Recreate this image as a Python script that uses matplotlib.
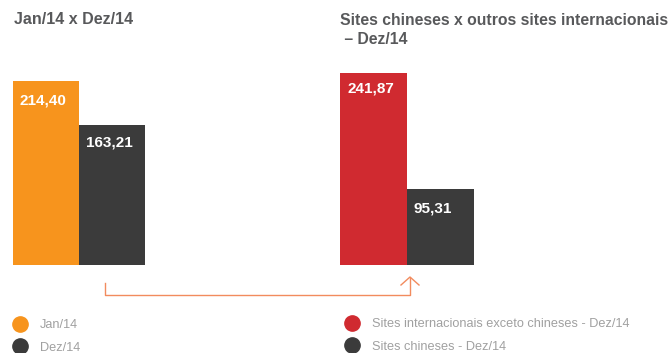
import matplotlib
matplotlib.use("Agg")
import matplotlib.pyplot as plt
from matplotlib.lines import Line2D

plt.rcParams['font.family'] = ['Liberation Sans', 'DejaVu Sans']

# valores (R$) por período / grupo de sites
left_labels = ['Jan/14', 'Dez/14']
left_values = [214.40, 163.21]
right_labels = ['Sites internacionais exceto chineses - Dez/14', 'Sites chineses - Dez/14']
right_values = [241.87, 95.31]

left_colors = ['#F7941D', '#3B3B3B']
right_colors = ['#D02A30', '#3B3B3B']

W, H = 672, 353
fig = plt.figure(figsize=(W / 100, H / 100), dpi=100)


def px(x, y):
    # pixel (from top-left) -> figure fraction
    return x / W, 1 - y / H


def panel(left, width, ymax, values, colors, label_off):
    bx, by = px(left, 265)
    ax = fig.add_axes([bx, by, width / W, 200 / H])
    bars = ax.bar(range(len(values)), values, width=1.0, color=colors)
    ax.set_xlim(-0.5, len(values) - 0.5)
    ax.set_ylim(0, ymax)
    ax.axis('off')
    for b, v, off in zip(bars, values, label_off):
        ax.annotate(f'{v:.2f}'.replace('.', ','),
                    xy=(b.get_x(), v), xytext=(7, -off),
                    textcoords='offset pixels', ha='left', va='center',
                    color='white', fontsize=11, fontweight='bold')
    return ax


panel(13, 132, 200 / 0.86, left_values, left_colors, [20, 18])
panel(340, 134, 200 / 0.795, right_values, right_colors, [16, 19])

title_color = '#58595B'
fig.text(*px(14, 19), 'Jan/14 x Dez/14', ha='left', va='center',
         fontsize=11.5, fontweight='bold', color=title_color)
fig.text(*px(340, 13), 'Sites chineses x outros sites internacionais\n – Dez/14',
         ha='left', va='top', fontsize=11.3, fontweight='bold', color=title_color,
         linespacing=1.3)

# conector entre os dois painéis
link = '#F28B5E'
xs, ys = zip(*[px(105, 283), px(105, 295), px(410, 295), px(410, 278)])
fig.add_artist(Line2D(xs, ys, color=link, lw=1.0, transform=fig.transFigure))
xs, ys = zip(*[px(401, 285), px(410, 277), px(419, 285)])
fig.add_artist(Line2D(xs, ys, color=link, lw=1.0, transform=fig.transFigure))


def legend(x, y, labels, colors):
    handles = [Line2D([], [], marker='o', ls='none', markersize=11,
                      markerfacecolor=c, markeredgecolor=c) for c in colors]
    fig.legend(handles, labels, loc='upper left', bbox_to_anchor=px(x, y),
               bbox_transform=fig.transFigure, frameon=False, borderpad=0,
               borderaxespad=0, handlelength=1.0, handletextpad=1.0,
               labelspacing=0.85, fontsize=9.2, labelcolor='#A0A0A0')


legend(14, 319, left_labels, left_colors)
legend(346, 318, right_labels, right_colors)

fig.savefig('out.png', dpi=100, facecolor='white')
